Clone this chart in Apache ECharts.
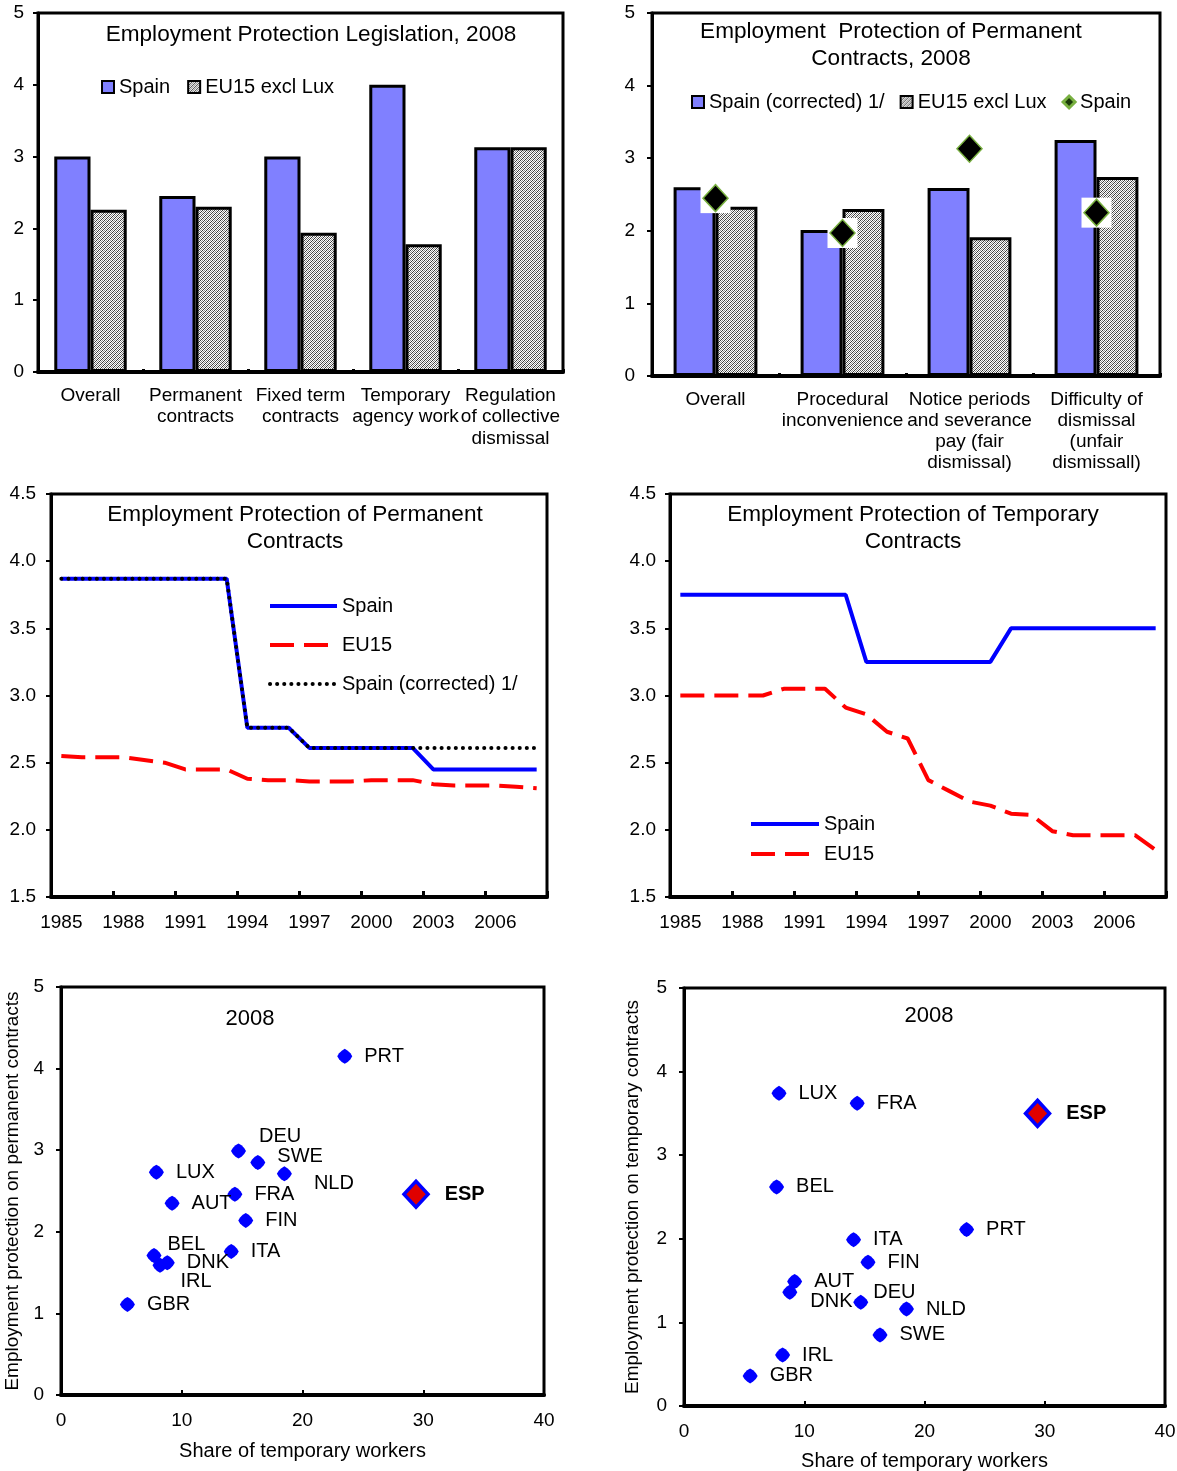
<!DOCTYPE html>
<html>
<head>
<meta charset="utf-8">
<script src="https://cdn.jsdelivr.net/npm/echarts@6/dist/echarts.min.js"></script>
<style>
  html, body { margin: 0; padding: 0; background: #fff; }
  #page { position: relative; width: 1177px; height: 1471px; background: #fff; }
  .panel { position: absolute; }
</style>
</head>
<body>
<div id="page">
  <div id="c1" class="panel" style="left:0;top:0;width:588px;height:480px"></div>
  <div id="c2" class="panel" style="left:588px;top:0;width:589px;height:480px"></div>
  <div id="c3" class="panel" style="left:0;top:480px;width:588px;height:490px"></div>
  <div id="c4" class="panel" style="left:588px;top:480px;width:589px;height:490px"></div>
  <div id="c5" class="panel" style="left:0;top:970px;width:588px;height:501px"></div>
  <div id="c6" class="panel" style="left:588px;top:970px;width:589px;height:501px"></div>
</div>
<script>
// ---- Employment protection legislation, 2008 ----
const eplCategories = ['Overall', 'Permanent\ncontracts', 'Fixed term\ncontracts', 'Temporary\nagency work', 'Regulation\nof collective\ndismissal'];
const eplSpain = [3.0, 2.45, 3.0, 4.0, 3.13];
const eplEU15 = [2.26, 2.30, 1.94, 1.78, 3.13];

// ---- Protection of permanent contracts, 2008 (components) ----
const permCategories = ['Overall', 'Procedural\ninconvenience', 'Notice periods\nand severance\npay (fair\ndismissal)', 'Difficulty of\ndismissal\n(unfair\ndismissall)'];
const permSpainCorrected = [2.60, 2.01, 2.59, 3.25];
const permEU15 = [2.33, 2.30, 1.91, 2.74];
const permSpain = [2.45, 1.97, 3.13, 2.25];

// ---- Time series 1985-2008 ----
const years = ['1985', '1986', '1987', '1988', '1989', '1990', '1991', '1992', '1993', '1994', '1995', '1996',
               '1997', '1998', '1999', '2000', '2001', '2002', '2003', '2004', '2005', '2006', '2007', '2008'];
const permTrendSpain = [3.87, 3.87, 3.87, 3.87, 3.87, 3.87, 3.87, 3.87, 3.87, 2.76, 2.76, 2.76,
                        2.61, 2.61, 2.61, 2.61, 2.61, 2.61, 2.45, 2.45, 2.45, 2.45, 2.45, 2.45];
const permTrendEU15 = [2.55, 2.54, 2.54, 2.54, 2.52, 2.50, 2.45, 2.45, 2.45, 2.38, 2.37, 2.37,
                       2.36, 2.36, 2.36, 2.37, 2.37, 2.37, 2.34, 2.33, 2.33, 2.33, 2.32, 2.31];
const permTrendSpainCorrected = [3.87, 3.87, 3.87, 3.87, 3.87, 3.87, 3.87, 3.87, 3.87, 2.76, 2.76, 2.76,
                                 2.61, 2.61, 2.61, 2.61, 2.61, 2.61, 2.61, 2.61, 2.61, 2.61, 2.61, 2.61];
const tempTrendSpain = [3.75, 3.75, 3.75, 3.75, 3.75, 3.75, 3.75, 3.75, 3.75, 3.25, 3.25, 3.25,
                        3.25, 3.25, 3.25, 3.25, 3.5, 3.5, 3.5, 3.5, 3.5, 3.5, 3.5, 3.5];
const tempTrendEU15 = [3.0, 3.0, 3.0, 3.0, 3.0, 3.05, 3.05, 3.05, 2.91, 2.86, 2.73, 2.68,
                       2.37, 2.29, 2.21, 2.18, 2.12, 2.11, 1.99, 1.96, 1.96, 1.96, 1.96, 1.85];

// ---- Cross-country, 2008 ----
const countries = ['PRT', 'DEU', 'SWE', 'NLD', 'LUX', 'FRA', 'AUT', 'FIN', 'ITA', 'BEL', 'DNK', 'IRL', 'GBR'];
const tempShare = [23.5, 14.7, 16.3, 18.5, 7.9, 14.4, 9.2, 15.3, 14.1, 7.7, 8.8, 8.2, 5.5];
const eplPermanent = [4.15, 2.99, 2.85, 2.71, 2.73, 2.46, 2.35, 2.14, 1.76, 1.71, 1.62, 1.59, 1.11];
const eplTemporary = [2.11, 1.24, 0.85, 1.16, 3.74, 3.62, 1.49, 1.72, 1.99, 2.62, 1.36, 0.61, 0.36];
const spainName = 'ESP';
const spainTempShare = 29.4;
const spainPermanent = 2.46;
const spainTemporary = 3.50;

// label nudges (pixels) for crowded country labels
const permLabelShift = { DEU: [1, -15], SWE: [0, -6], NLD: [10, 10], BEL: [-6, -11], IRL: [1, 16] };
const tempLabelShift = { DNK: [1, 9], DEU: [-7, -10] };

const FONT = '"Liberation Sans", Arial, sans-serif';
const BLACK = '#000';

// fine diagonal hatch used for the EU15 bars
function makeHatch() {
  const c = document.createElement('canvas');
  c.width = 4; c.height = 4;
  const ctx = c.getContext('2d');
  ctx.fillStyle = '#ffffff';
  ctx.fillRect(0, 0, 4, 4);
  for (let y = 0; y < 4; y++) {
    for (let x = 0; x < 4; x++) {
      const k = (x + y) % 4;
      if (k === 0) { ctx.fillStyle = '#3a3a3a'; ctx.fillRect(x, y, 1, 1); }
      else if (k === 2) { ctx.fillStyle = '#8c8c8c'; ctx.fillRect(x, y, 1, 1); }
    }
  }
  return { image: c, repeat: 'repeat' };
}
const hatch = makeHatch();

function gridBox(left, top, width, height) {
  return { left, top, width, height, show: true, borderColor: BLACK, borderWidth: 3,
           containLabel: false, outerBoundsMode: 'none' };
}
function valueAxis(min, max, interval, extra) {
  return Object.assign({
    type: 'value', min, max, interval,
    axisLine: { show: true, lineStyle: { color: BLACK, width: 3 } },
    axisTick: { show: true, inside: false, length: 5, lineStyle: { color: BLACK, width: 2 } },
    splitLine: { show: false },
    axisLabel: { color: BLACK, fontSize: 19, fontFamily: FONT, margin: 14 }
  }, extra || {});
}
function titleAt(text, x, top) {
  return { text, left: x - 5, top, textAlign: 'center',
           textStyle: { fontSize: 22.6, fontWeight: 'normal', fontFamily: FONT, color: BLACK, lineHeight: 27 } };
}
const legendText = { fontSize: 20, fontFamily: FONT, color: BLACK };

// ---------------- Chart 1 ----------------
const chart1 = echarts.init(document.getElementById('c1'));
chart1.setOption({
  animation: false,
  textStyle: { fontFamily: FONT, color: BLACK },
  title: titleAt('Employment Protection Legislation, 2008', 311, 16),
  legend: {
    left: 96, top: 72, itemWidth: 12, itemHeight: 12, itemGap: 17, icon: 'rect', selectedMode: false,
    itemStyle: { borderColor: BLACK, borderWidth: 2 },
    textStyle: legendText,
    data: ['Spain', 'EU15 excl Lux']
  },
  grid: gridBox(38, 13, 525, 359),
  xAxis: {
    type: 'category', data: eplCategories,
    axisLine: { lineStyle: { color: BLACK, width: 4 } },
    axisTick: { show: true, inside: true, length: 3, lineStyle: { color: BLACK, width: 3 } },
    axisLabel: { interval: 0, color: BLACK, fontSize: 19, lineHeight: 21.5, margin: 13, fontFamily: FONT }
  },
  yAxis: valueAxis(0, 5, 1),
  series: [
    { name: 'Spain', type: 'bar', data: eplSpain, barGap: '0%', barCategoryGap: '31%',
      itemStyle: { color: '#8080FF', borderColor: BLACK, borderWidth: 3 } },
    { name: 'EU15 excl Lux', type: 'bar', data: eplEU15,
      itemStyle: { color: hatch, borderColor: BLACK, borderWidth: 3 } }
  ]
});

// ---------------- Chart 2 ----------------
const chart2 = echarts.init(document.getElementById('c2'));
chart2.setOption({
  animation: false,
  textStyle: { fontFamily: FONT, color: BLACK },
  title: titleAt('Employment  Protection of Permanent\nContracts, 2008', 303, 13),
  legend: {
    left: 98, top: 87, itemWidth: 12, itemHeight: 12, itemGap: 15, selectedMode: false,
    textStyle: legendText,
    data: [
      { name: 'Spain (corrected) 1/', icon: 'rect', itemStyle: { borderColor: BLACK, borderWidth: 2 } },
      { name: 'EU15 excl Lux', icon: 'rect', itemStyle: { borderColor: BLACK, borderWidth: 2 } },
      { name: 'Spain', icon: 'diamond', itemStyle: { color: '#1a3a0a', borderColor: '#78b040', borderWidth: 3, opacity: 1 } }
    ]
  },
  grid: gridBox(64, 13, 508, 363),
  xAxis: {
    type: 'category', data: permCategories,
    axisLine: { lineStyle: { color: BLACK, width: 4 } },
    axisTick: { show: true, inside: true, length: 3, lineStyle: { color: BLACK, width: 3 } },
    axisLabel: { interval: 0, color: BLACK, fontSize: 19, lineHeight: 21, margin: 13, fontFamily: FONT }
  },
  yAxis: valueAxis(0, 5, 1, { axisLabel: { color: BLACK, fontSize: 19, fontFamily: FONT, margin: 17 } }),
  series: [
    { name: 'Spain (corrected) 1/', type: 'bar', data: permSpainCorrected, barGap: '0%', barCategoryGap: '34%',
      itemStyle: { color: '#8080FF', borderColor: BLACK, borderWidth: 3 } },
    { name: 'EU15 excl Lux', type: 'bar', data: permEU15,
      itemStyle: { color: hatch, borderColor: BLACK, borderWidth: 3 } },
    { name: 'Spain backdrop', type: 'scatter', data: permSpain, symbol: 'rect', symbolSize: 30, z: 3,
      itemStyle: { color: '#ffffff', opacity: 1 }, silent: true },
    { name: 'Spain', type: 'scatter', data: permSpain, symbol: 'diamond', symbolSize: [25, 27], z: 4,
      itemStyle: { color: '#000000', borderColor: '#78b040', borderWidth: 1.5, opacity: 1 } }
  ]
});

// ---------------- Chart 3 ----------------
function yearAxis() {
  return {
    type: 'category', data: years, boundaryGap: true,
    axisLine: { lineStyle: { color: BLACK, width: 4 } },
    axisTick: { show: true, inside: true, interval: 2, length: 6, lineStyle: { color: BLACK, width: 3 } },
    axisLabel: { interval: 2, color: BLACK, fontSize: 19, margin: 16, fontFamily: FONT }
  };
}
function trendAxis(margin) {
  return valueAxis(1.5, 4.5, 0.5, {
    axisLabel: { color: BLACK, fontSize: 19, fontFamily: FONT, margin, formatter: v => v.toFixed(1) }
  });
}
const chart3 = echarts.init(document.getElementById('c3'));
chart3.setOption({
  animation: false,
  textStyle: { fontFamily: FONT, color: BLACK },
  title: titleAt('Employment Protection of Permanent\nContracts', 295, 16),
  legend: {
    orient: 'vertical', left: 263, top: 111, itemWidth: 67, itemHeight: 14, itemGap: 19, selectedMode: false,
    itemStyle: { opacity: 0 },
    lineStyle: { width: 4 },
    textStyle: legendText,
    data: ['Spain', 'EU15', 'Spain (corrected) 1/']
  },
  grid: gridBox(51, 14, 496, 403),
  xAxis: yearAxis(),
  yAxis: trendAxis(15),
  series: [
    { name: 'Spain', type: 'line', data: permTrendSpain, symbol: 'none', z: 2,
      itemStyle: { color: '#0000FF' }, lineStyle: { color: '#0000FF', width: 4 } },
    { name: 'EU15', type: 'line', data: permTrendEU15, symbol: 'none', z: 2,
      itemStyle: { color: '#FF0000' }, lineStyle: { color: '#FF0000', width: 4, type: [24, 10] } },
    { name: 'Spain (corrected) 1/', type: 'line', data: permTrendSpainCorrected, symbol: 'none', z: 3,
      itemStyle: { color: BLACK }, lineStyle: { color: BLACK, width: 4, type: [0.1, 7], cap: 'round' } }
  ]
});

// ---------------- Chart 4 ----------------
const chart4 = echarts.init(document.getElementById('c4'));
chart4.setOption({
  animation: false,
  textStyle: { fontFamily: FONT, color: BLACK },
  title: titleAt('Employment Protection of Temporary\nContracts', 325, 16),
  legend: {
    orient: 'vertical', left: 156, top: 329, itemWidth: 68, itemHeight: 14, itemGap: 10, selectedMode: false,
    itemStyle: { opacity: 0 },
    lineStyle: { width: 4 },
    textStyle: legendText,
    data: ['Spain', 'EU15']
  },
  grid: gridBox(82, 14, 496, 403),
  xAxis: yearAxis(),
  yAxis: trendAxis(14),
  series: [
    { name: 'Spain', type: 'line', data: tempTrendSpain, symbol: 'none',
      itemStyle: { color: '#0000FF' }, lineStyle: { color: '#0000FF', width: 4 } },
    { name: 'EU15', type: 'line', data: tempTrendEU15, symbol: 'none',
      itemStyle: { color: '#FF0000' }, lineStyle: { color: '#FF0000', width: 4, type: [24, 10] } }
  ]
});

// ---------------- Scatter charts ----------------
const dotPath = 'path://M5,0 L7,1.2 L8.8,3 L10,5 L8.8,7 L7,8.8 L5,10 L3,8.8 L1.2,7 L0,5 L1.2,3 L3,1.2 Z';

function countryPoints(ys, shifts) {
  return countries.map((c, i) => {
    const item = { name: c, value: [tempShare[i], ys[i]] };
    if (shifts[c]) item.label = { offset: shifts[c] };
    return item;
  });
}

function scatterOption(yName, ys, spainY, shifts, titleX, titleTop, gridLeft, gridTop, gridW, gridH, yNameGap, xNameGap, xLabelMargin) {
  return {
    animation: false,
    textStyle: { fontFamily: FONT, color: BLACK },
    title: { text: '2008', left: titleX - 5, top: titleTop, textAlign: 'center',
             textStyle: { fontSize: 22, fontWeight: 'normal', fontFamily: FONT, color: BLACK } },
    grid: gridBox(gridLeft, gridTop, gridW, gridH),
    xAxis: {
      type: 'value', min: 0, max: 40, interval: 10,
      name: 'Share of temporary workers', nameLocation: 'middle', nameGap: xNameGap,
      nameTextStyle: { fontSize: 20, fontFamily: FONT, color: BLACK },
      axisLine: { show: true, lineStyle: { color: BLACK, width: 4 } },
      axisTick: { show: true, inside: true, length: 5, lineStyle: { color: BLACK, width: 2 } },
      splitLine: { show: false },
      axisLabel: { color: BLACK, fontSize: 19, margin: xLabelMargin, fontFamily: FONT }
    },
    yAxis: valueAxis(0, 5, 1, {
      name: yName, nameLocation: 'middle', nameGap: yNameGap, nameRotate: 90,
      nameTextStyle: { fontSize: 19, fontFamily: FONT, color: BLACK },
      axisLabel: { color: BLACK, fontSize: 19, fontFamily: FONT, margin: 17 }
    }),
    series: [
      {
        name: 'countries', type: 'scatter', data: countryPoints(ys, shifts),
        symbol: dotPath, symbolSize: 15,
        itemStyle: { color: '#0000FF', opacity: 1 },
        label: { show: true, position: 'right', distance: 12, formatter: '{b}',
                 fontSize: 20, fontFamily: FONT, color: BLACK }
      },
      {
        name: spainName, type: 'scatter', data: [{ name: spainName, value: [spainTempShare, spainY] }],
        symbol: 'diamond', symbolSize: [24, 26], z: 3,
        itemStyle: { color: '#E00000', borderColor: '#0000FF', borderWidth: 3.5, opacity: 1 },
        label: { show: true, position: 'right', distance: 15, formatter: '{b}',
                 fontSize: 20, fontWeight: 'bold', fontFamily: FONT, color: BLACK }
      }
    ]
  };
}

const chart5 = echarts.init(document.getElementById('c5'));
chart5.setOption(scatterOption('Employment protection on permanent contracts', eplPermanent, spainPermanent,
  permLabelShift, 250, 33, 61, 17, 483, 408, 39, 46, 16));

const chart6 = echarts.init(document.getElementById('c6'));
chart6.setOption(scatterOption('Employment protection on temporary contracts', eplTemporary, spainTemporary,
  tempLabelShift, 341, 30, 96, 18, 481, 418, 42, 45, 16));
</script>
</body>
</html>
